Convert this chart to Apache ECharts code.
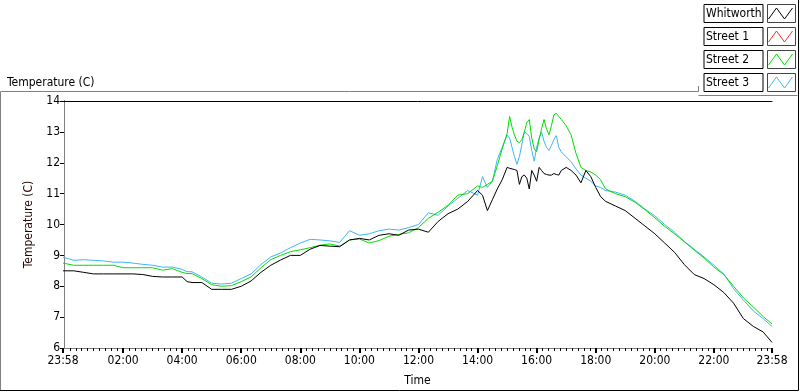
<!DOCTYPE html>
<html>
<head>
<meta charset="utf-8">
<script src="https://cdn.jsdelivr.net/npm/echarts@6/dist/echarts.min.js"></script>
<style>
html, body { margin: 0; padding: 0; background: #fff; }
#chart-view { width: 800px; height: 392px; }
</style>
</head>
<body>
<div id="chart-view"></div>
<script>
// sample times (first 23:58 is the previous evening)
const times = [
  '23:58', '00:20', '00:40', '01:00', '01:20', '01:40', '02:00', '02:20', '02:40', '03:00',
  '03:20', '03:40', '04:00', '04:10', '04:20', '04:40', '05:00', '05:20', '05:40', '06:00',
  '06:20', '06:40', '07:00', '07:20', '07:40', '08:00', '08:20', '08:40', '09:00', '09:20',
  '09:40', '10:00', '10:20', '10:40', '11:00', '11:20', '11:40', '12:00', '12:20', '12:40',
  '13:00', '13:20', '13:40', '14:00', '14:10', '14:20', '14:30', '14:40', '14:50', '15:00',
  '15:05', '15:10', '15:15', '15:20', '15:25', '15:30', '15:35', '15:40', '15:45', '15:50',
  '15:55', '16:00', '16:05', '16:10', '16:15', '16:20', '16:25', '16:30', '16:35', '16:40',
  '16:45', '16:50', '17:00', '17:10', '17:20', '17:30', '17:40', '17:50', '18:00', '18:10',
  '18:20', '18:40', '19:00', '19:20', '19:40', '20:00', '20:20', '20:40', '21:00', '21:20',
  '21:40', '22:00', '22:20', '22:40', '23:00', '23:20', '23:40', '23:58'
]
const whitworth = [
  8.5, 8.5, 8.45, 8.4, 8.4, 8.4, 8.4, 8.4, 8.38, 8.32,
  8.3, 8.3, 8.3, 8.15, 8.12, 8.12, 7.9, 7.9, 7.9, 8.0,
  8.17, 8.45, 8.68, 8.85, 9.0, 9.0, 9.2, 9.32, 9.3, 9.28,
  9.5, 9.55, 9.5, 9.65, 9.7, 9.65, 9.82, 9.85, 9.75, 10.1,
  10.35, 10.5, 10.75, 11.1, 10.95, 10.45, 10.8, 11.15, 11.45, 11.85,
  11.82, 11.8, 11.78, 11.75, 11.3, 11.55, 11.6, 11.5, 11.15, 11.75,
  11.6, 11.4, 11.85, 11.75, 11.65, 11.62, 11.6, 11.6, 11.65, 11.62,
  11.6, 11.75, 11.85, 11.75, 11.6, 11.35, 11.75, 11.55, 11.2, 10.9,
  10.75, 10.6, 10.45, 10.2, 9.95, 9.7, 9.4, 9.1, 8.7, 8.38,
  8.25, 8.05, 7.8, 7.45, 6.95, 6.7, 6.52, 6.18
]
const street1 = []
const street2 = [
  8.75, 8.68, 8.68, 8.68, 8.68, 8.68, 8.6, 8.6, 8.6, 8.6,
  8.52, 8.57, 8.45, 8.41, 8.41, 8.25, 8.05, 8.0, 8.02, 8.15,
  8.3, 8.6, 8.86, 9.0, 9.12, 9.18, 9.25, 9.33, 9.37, 9.3,
  9.5, 9.53, 9.4, 9.48, 9.62, 9.68, 9.73, 9.9, 10.2, 10.4,
  10.62, 10.95, 11.0, 11.25, 11.2, 11.3, 11.4, 11.9, 12.45, 12.95,
  13.5, 13.15, 12.9, 12.7, 12.65, 12.75, 13.0, 13.3, 13.4, 12.8,
  12.45, 12.35, 12.75, 13.1, 13.4, 13.1, 12.9, 13.2, 13.55, 13.6,
  13.5, 13.4, 13.2, 12.9, 12.3, 11.85, 11.75, 11.7, 11.6, 11.45,
  11.15, 11.0, 10.9, 10.72, 10.48, 10.22, 9.94, 9.7, 9.44, 9.17,
  8.92, 8.62, 8.38, 8.0, 7.62, 7.33, 7.02, 6.78
]
const street3 = [
  8.94, 8.84, 8.86, 8.84, 8.82, 8.78, 8.78, 8.75, 8.71, 8.68,
  8.62, 8.62, 8.55, 8.47, 8.47, 8.3, 8.1, 8.07, 8.1, 8.25,
  8.4, 8.7, 8.95, 9.08, 9.25, 9.4, 9.52, 9.5, 9.47, 9.42,
  9.8, 9.65, 9.7, 9.8, 9.85, 9.82, 9.9, 10.0, 10.38, 10.3,
  10.6, 10.85, 11.1, 10.95, 11.55, 11.2, 11.4, 12.1, 12.5, 12.9,
  12.8, 12.5, 12.2, 11.95, 12.2, 12.6, 13.0, 12.95, 12.85, 12.4,
  12.05, 12.5, 12.8, 12.99, 12.7, 12.5, 12.4, 12.56, 12.75, 12.88,
  12.5, 12.35, 12.19, 12.03, 11.8, 11.6, 11.5, 11.4, 11.25, 11.2,
  11.1, 11.05, 10.95, 10.75, 10.5, 10.28, 10.0, 9.75, 9.45, 9.2,
  8.95, 8.68, 8.4, 7.92, 7.55, 7.2, 6.95, 6.7
]
const xTickLabels = ['23:58', '02:00', '04:00', '06:00', '08:00', '10:00', '12:00',
  '14:00', '16:00', '18:00', '20:00', '22:00', '23:58']

const FONT = '"DejaVu Sans Condensed", "Liberation Sans", sans-serif'

// minutes from midnight, the very first label belongs to the day before
function toMinutes(s, i) {
  let p = s.split(':')
  let m = parseInt(p[0]) * 60 + parseInt(p[1])
  return i === 0 ? m - 1440 : m
}

let xTickValues = xTickLabels.map((s, i) => toMinutes(s, i))
let minorTicks = []
for (let m = 12; m < 1438; m += 12) {
  if (m % 120 !== 0) minorTicks.push(m)
}

function pairs(values) {
  return values.map((v, i) => [toMinutes(times[i], i), v])
}

let chartLine = echarts.init(document.getElementById('chart-view'))

let legendIcon = 'path://M0,11L8,0L16,11L24,0'
let colors = ['#000000', '#ff2a2a', '#00dd00', '#3cb6f5']
let names = ['Whitworth', 'Street 1', 'Street 2', 'Street 3']

// boxes round the legend icons
let frames = names.map((n, i) => ({
  type: 'rect',
  shape: { x: 767.5, y: 4.5 + i * 23, width: 28, height: 18 },
  style: { fill: 'none', stroke: '#444', lineWidth: 1 }
}))

let option = {
  animation: false,
  textStyle: { fontFamily: FONT },
  color: colors,
  title: {
    text: 'Temperature (C)',
    left: 2,
    top: 72,
    textStyle: { fontSize: 12, fontWeight: 'normal', color: '#000', fontFamily: FONT }
  },
  legend: {
    orient: 'vertical',
    right: 5,
    top: 4,
    padding: 0,
    align: 'right',
    itemGap: 4,
    itemWidth: 25,
    itemHeight: 11,
    icon: legendIcon,
    selectedMode: false,
    formatter: '{a|{name}}',
    data: names.map((n, i) => ({
      name: n,
      itemStyle: { color: 'none', borderColor: colors[i], borderWidth: 1 }
    })),
    textStyle: {
      fontSize: 12,
      color: '#000',
      fontFamily: FONT,
      padding: [2, 2, 2, 2],
      borderColor: '#000',
      borderWidth: 1,
      rich: {
        a: { width: 55, height: 14, lineHeight: 14, align: 'left', fontSize: 12, color: '#000', fontFamily: FONT }
      }
    }
  },
  graphic: [
    // outer sunken frame
    { type: 'polyline', shape: { points: [[0.5, 391], [0.5, 91.5], [698.5, 91.5], [698.5, 86]] },
      style: { stroke: '#808080', fill: 'none', lineWidth: 1 } },
    { type: 'polyline', shape: { points: [[698.5, 95.5], [797.5, 95.5]] },
      style: { stroke: '#808080', fill: 'none', lineWidth: 1 } },
    { type: 'polyline', shape: { points: [[0, 390.5], [798.5, 390.5], [798.5, 0]] },
      style: { stroke: '#000', fill: 'none', lineWidth: 1 } }
  ].concat(frames),
  grid: { left: 63, right: 28, top: 101, bottom: 39, show: false },
  xAxis: [
    {
      type: 'value',
      min: -2,
      max: 1438,
      name: 'Time',
      nameLocation: 'middle',
      nameGap: 27,
      nameTextStyle: { fontSize: 12, color: '#000', fontFamily: FONT },
      axisLine: { lineStyle: { color: '#808080', width: 1 } },
      axisTick: { customValues: xTickValues, length: 5, lineStyle: { color: '#000', width: 2 } },
      axisLabel: {
        customValues: xTickValues,
        margin: 7,
        fontSize: 12,
        color: '#000',
        fontFamily: FONT,
        formatter: v => xTickLabels[xTickValues.indexOf(v)] || ''
      },
      splitLine: { show: false }
    },
    {
      type: 'value',
      min: -2,
      max: 1438,
      position: 'bottom',
      axisLine: { show: false },
      axisTick: { customValues: minorTicks, length: 3, lineStyle: { color: '#000', width: 1 } },
      axisLabel: { show: false },
      splitLine: { show: false }
    },
    {
      type: 'value',
      min: -2,
      max: 1438,
      position: 'top',
      axisLine: { lineStyle: { color: '#000', width: 1 } },
      axisTick: { show: false },
      axisLabel: { show: false },
      splitLine: { show: false }
    }
  ],
  yAxis: [
    {
      type: 'value',
      min: 6,
      max: 14,
      interval: 1,
      name: 'Temperature (C)',
      nameLocation: 'middle',
      nameGap: 28,
      nameTextStyle: { fontSize: 12, color: '#2a0808', fontFamily: FONT },
      axisLine: { show: true, lineStyle: { color: '#000', width: 1 } },
      axisTick: { show: true, length: 4, lineStyle: { color: '#000' } },
      axisLabel: { margin: 3, fontSize: 12, color: '#000', fontFamily: FONT },
      splitLine: { show: false }
    },
    {
      type: 'value',
      min: 6,
      max: 14,
      position: 'right',
      axisLine: { show: true, lineStyle: { color: '#808080', width: 1 } },
      axisTick: { show: false },
      axisLabel: { show: false },
      splitLine: { show: false }
    }
  ],
  series: [
    { name: 'Street 3', type: 'line', data: pairs(street3), showSymbol: false, color: colors[3],
      lineStyle: { width: 1, color: colors[3] }, z: 2 },
    { name: 'Street 2', type: 'line', data: pairs(street2), showSymbol: false, color: colors[2],
      lineStyle: { width: 1, color: colors[2] }, z: 3 },
    { name: 'Street 1', type: 'line', data: pairs(street1), showSymbol: false, color: colors[1],
      lineStyle: { width: 1, color: colors[1] }, z: 4 },
    { name: 'Whitworth', type: 'line', data: pairs(whitworth), showSymbol: false, color: colors[0],
      lineStyle: { width: 1, color: colors[0] }, z: 5 }
  ]
}

chartLine.setOption(option)
</script>
</body>
</html>
